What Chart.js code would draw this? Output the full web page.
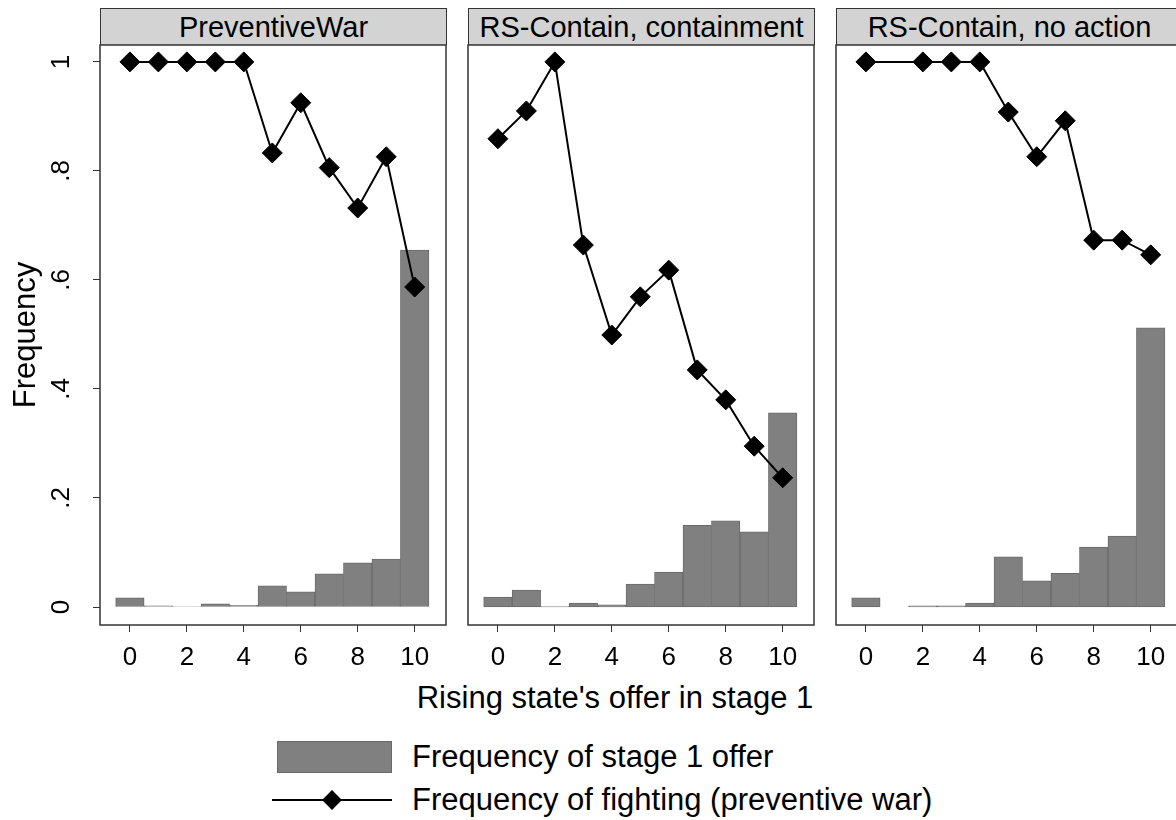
<!DOCTYPE html>
<html>
<head>
<meta charset="utf-8">
<script src="https://cdn.jsdelivr.net/npm/chart.js@4"></script>
<style>
  html, body { margin: 0; padding: 0; background: #fff; overflow: hidden; }
  body { width: 1176px; height: 820px; position: relative; font-family: "Liberation Sans", Arial, sans-serif; color: #000; }
  canvas { position: absolute; }
  .head { position: absolute; top: 8px; height: 36px; box-sizing: content-box; background: #d3d3d3; border: 1.5px solid #333; border-bottom: none;
          font-size: 29px; line-height: 36px; text-align: center; white-space: nowrap; }
  .xtitle { position: absolute; left: 315px; width: 600px; top: 680px; text-align: center; font-size: 31px; line-height: 36px; }
  .legtxt { position: absolute; left: 412px; font-size: 31px; line-height: 36px; white-space: nowrap; }
</style>
</head>
<body>
<div class="head" style="left:100px;width:345px">PreventiveWar</div>
<div class="head" style="left:468px;width:345px">RS-Contain, containment</div>
<div class="head" style="left:836px;width:345px">RS-Contain, no action</div>
<canvas id="panel1" width="448" height="634" style="left:0px;top:43px"></canvas>
<canvas id="panel2" width="350" height="634" style="left:466px;top:43px"></canvas>
<canvas id="panel3" width="350" height="634" style="left:834px;top:43px"></canvas>
<div class="xtitle">Rising state's offer in stage 1</div>

<div style="position:absolute;left:277px;top:741px;width:113px;height:30px;background:#808080;border:1px solid #6a6a6a"></div>
<div class="legtxt" style="top:739px">Frequency of stage 1 offer</div>
<div style="position:absolute;left:272px;top:799px;width:120px;height:2px;background:#000"></div>
<div style="position:absolute;left:325px;top:793px;width:14px;height:14px;background:#000;transform:rotate(45deg)"></div>
<div class="legtxt" style="top:782px">Frequency of fighting (preventive war)</div>

<script>
const offers = [0, 1, 2, 3, 4, 5, 6, 7, 8, 9, 10];
const xTicks = [0, 2, 4, 6, 8, 10];
const yTicks = [0, 0.2, 0.4, 0.6, 0.8, 1];
const yTickLabels = ['0', '.2', '.4', '.6', '.8', '1'];

// PreventiveWar
const pwOffer = [0.017, 0.002, 0.001, 0.006, 0.003, 0.039, 0.028, 0.061, 0.081, 0.088, 0.655];
const pwFight = [1, 1, 1, 1, 1, 0.833, 0.925, 0.806, 0.732, 0.826, 0.587];
// RS-Contain, containment
const ccOffer = [0.018, 0.031, 0.001, 0.007, 0.004, 0.042, 0.064, 0.150, 0.158, 0.138, 0.356];
const ccFight = [0.859, 0.910, 1, 0.664, 0.499, 0.569, 0.618, 0.435, 0.380, 0.295, 0.237];
// RS-Contain, no action
const naOffer = [0.017, null, 0.002, 0.002, 0.007, 0.092, 0.048, 0.062, 0.110, 0.130, 0.512];
const naFight = [1, null, 1, 1, 1, 0.908, 0.826, 0.892, 0.673, 0.673, 0.646];

const font = 'Liberation Sans, Arial, sans-serif';

const frame = {
  id: 'frame',
  afterDraw(chart) {
    const a = chart.chartArea, ctx = chart.ctx;
    ctx.save();
    ctx.strokeStyle = '#333';
    ctx.lineWidth = 1.5;
    ctx.strokeRect(a.left, a.top, a.right - a.left, a.bottom - a.top);
    ctx.restore();
  }
};

function pts(vals) {
  return offers.map((x, i) => ({ x: x, y: vals[i] })).filter(p => p.y !== null);
}

function makePanel(id, offerVals, fightVals, showY) {
  return new Chart(document.getElementById(id), {
    type: 'bar',
    data: {
      datasets: [{
        type: 'line',
        data: pts(fightVals),
        borderColor: '#000',
        borderWidth: 2,
        pointStyle: 'rectRot',
        pointRadius: 10,
        pointBackgroundColor: '#000',
        pointBorderColor: '#000',
        pointBorderWidth: 1,
        spanGaps: true,
        order: 0
      }, {
        type: 'bar',
        data: pts(offerVals),
        backgroundColor: '#808080',
        borderColor: '#6a6a6a',
        borderWidth: 1,
        borderSkipped: false,
        barPercentage: 1,
        categoryPercentage: 1,
        order: 1
      }]
    },
    options: {
      responsive: false,
      animation: false,
      layout: { autoPadding: false, padding: { top: 2, left: showY ? 0 : 2, right: 2, bottom: 0 } },
      plugins: { legend: { display: false }, tooltip: { enabled: false } },
      scales: {
        x: {
          type: 'linear',
          offset: false,
          min: -1.05,
          max: 11.1,
          afterBuildTicks: s => { s.ticks = xTicks.map(v => ({ value: v })); },
          afterFit: s => { s.height = 52; s.paddingLeft = 0; s.paddingRight = 0; },
          grid: { offset: false, drawOnChartArea: false, drawTicks: true, tickLength: 7, color: '#333' },
          border: { display: false },
          ticks: { font: { family: font, size: 26 }, color: '#000', padding: 10, maxRotation: 0 }
        },
        y: {
          display: showY,
          min: -0.033,
          max: 1.031,
          afterBuildTicks: s => { s.ticks = yTicks.map(v => ({ value: v })); },
          afterFit: s => { s.width = showY ? 100 : 0; s.paddingTop = 0; s.paddingBottom = 0; },
          grid: { drawOnChartArea: false, drawTicks: true, tickLength: 7, color: '#333' },
          border: { display: false },
          title: { display: true, text: 'Frequency', font: { family: font, size: 31 }, color: '#000', padding: { top: 8 } },
          ticks: {
            font: { family: font, size: 26 }, color: '#000',
            minRotation: 90, maxRotation: 90, crossAlign: 'center', padding: 20,
            callback: v => yTickLabels[yTicks.indexOf(v)]
          }
        }
      }
    },
    plugins: [frame]
  });
}

makePanel('panel1', pwOffer, pwFight, true);
makePanel('panel2', ccOffer, ccFight, false);
makePanel('panel3', naOffer, naFight, false);
</script>
</body>
</html>
